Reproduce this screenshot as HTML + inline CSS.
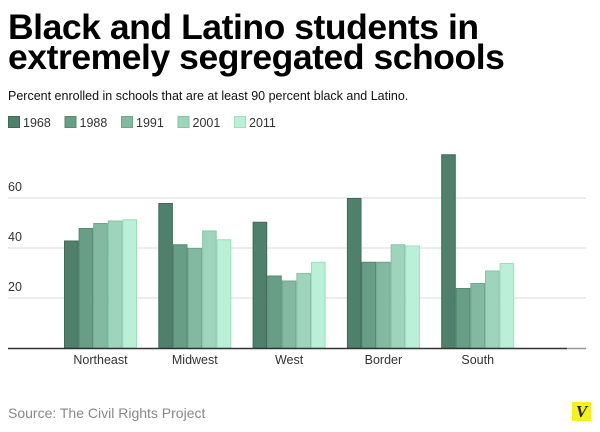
<!DOCTYPE html>
<html><head><meta charset="utf-8"><style>
body{margin:0;width:600px;height:432px;background:#fff;font-family:"Liberation Sans",sans-serif;position:relative;overflow:hidden}
#title{position:absolute;left:8px;top:12px;font-weight:bold;font-size:35.5px;line-height:30px;letter-spacing:-0.45px;color:#000;margin:0}
#sub{position:absolute;left:8px;top:89px;font-size:12.5px;color:#111}
#source{position:absolute;left:8px;top:405px;font-size:14px;color:#888}
#logo{position:absolute;left:572px;top:402px;width:19px;height:19px;background:#f5f21a;color:#222;font:bold italic 17px "Liberation Serif",serif;text-align:center;line-height:20px}
svg{position:absolute;left:0;top:0}
</style></head><body>
<h1 id="title">Black and Latino students in<br>extremely segregated schools</h1>
<div id="sub">Percent enrolled in schools that are at least 90 percent black and Latino.</div>
<svg id="chart" width="600" height="432"></svg>
<div id="source">Source: The Civil Rights Project</div>
<div id="logo">V</div>
<script>
const categories=["Northeast","Midwest","West","Border","South"];
const years=["1968","1988","1991","2001","2011"];
const v1968=[43,58,50.5,60,77.5];
const v1988=[48,41.5,29,34.5,24];
const v1991=[50,40,27,34.5,26];
const v2001=[51,47,30,41.5,31];
const v2011=[51.5,43.5,34.5,41,34];
const ticks=[20,40,60];
const series=[v1968,v1988,v1991,v2001,v2011];
const fills=["#4f806b","#689e86","#83b9a1","#9fd4bc","#baf0d8"];
const strokes=["#3f6a57","#558a72","#6ea58c","#86c2a7","#9fdcc0"];
const NS="http://www.w3.org/2000/svg";
const svg=document.getElementById('chart');
const y=v=>348-v*2.5;
const gx=i=>64+i*94.3;
const bw=14.6;
function mk(t,a){const e=document.createElementNS(NS,t);for(const k in a)e.setAttribute(k,a[k]);svg.appendChild(e);return e;}
ticks.forEach(t=>{
 const l=mk('line',{x1:8,x2:586,y1:y(t),y2:y(t),stroke:'#d8d8d8','stroke-width':1});
 
 
 const tx=mk('text',{x:8,y:y(t)-7,'font-size':12.5,fill:'#333','font-family':'Liberation Sans, sans-serif'});
 tx.textContent=t;
 
 
});
years.forEach((yr,i)=>{
 const x=8+i*56.5;
 const r=mk('rect',{x:x+0.5,y:116.5,width:11,height:11,fill:fills[i],stroke:strokes[i]});
 
 
 const t=mk('text',{x:x+15,y:127,'font-size':12.5,fill:'#333','font-family':'Liberation Sans, sans-serif'});
 t.textContent=yr;
 
 
});
categories.forEach((c,i)=>{
 series.forEach((s,j)=>{
  const x=gx(i)+j*bw;
  const r=mk('rect',{x:x+0.5,y:y(s[i])+0.5,width:bw-1,height:348-y(s[i])-0.5,fill:fills[j],stroke:strokes[j]});
  
  
 });
 const t=mk('text',{x:gx(i)+bw*2.5,y:364,'font-size':12.5,fill:'#333','text-anchor':'middle','font-family':'Liberation Sans, sans-serif'});
 t.textContent=c;
 
 
});
const b=mk('line',{x1:8,x2:567,y1:348.5,y2:348.5,stroke:'#333','stroke-width':1.5});


const b2=mk('line',{x1:567,x2:586,y1:348.5,y2:348.5,stroke:'#999','stroke-width':1.5});


</script>
</body></html>
